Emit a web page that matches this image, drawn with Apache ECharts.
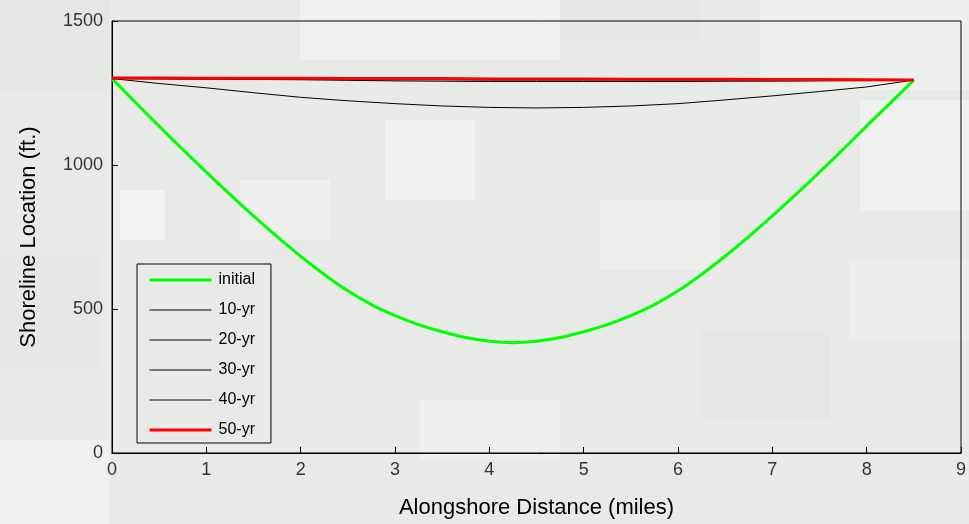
<!DOCTYPE html>
<html>
<head>
<meta charset="utf-8">
<script src="https://cdn.jsdelivr.net/npm/echarts@6/dist/echarts.min.js"></script>
<style>
html,body{margin:0;padding:0;background:#e8eae8;}
#c{width:969px;height:524px;}
</style>
</head>
<body>
<div id="c"></div>
<script>
// ---- data ----
const seriesNames = ['initial', '10-yr', '20-yr', '30-yr', '40-yr', '50-yr'];
const xInitial = [0,0.25,0.5,0.75,1,1.25,1.5,1.75,2,2.25,2.5,2.75,3,3.25,3.5,3.75,4,4.25,4.5,4.75,5,5.25,5.5,5.75,6,6.25,6.5,6.75,7,7.25,7.5,7.75,8,8.25,8.5];
const yInitial = [1300,1217,1135,1054,975,898,823,751,683,620,563,515,477,446,421,401,388,383,388,401,421,446,477,515,563,620,683,751,823,898,975,1054,1135,1215,1295];
const xYears = [0,0.5,1,1.5,2,2.5,3,3.5,4,4.5,5,5.5,6,6.5,7,7.5,8,8.5];
const y10 = [1300,1283,1268,1251,1235,1223,1213,1205,1200,1198,1200,1205,1213,1226,1240,1255,1271,1295];
const y20 = [1300,1299,1298,1297,1296,1294,1292,1291,1290,1290,1290,1290,1290,1291,1291,1292,1293,1295];
const y30 = [1300,1300,1299,1299,1298,1297,1296,1296,1295,1295,1295,1295,1295,1295,1295,1295,1295,1295];
const y40 = [1300,1300,1300,1300,1299,1299,1298,1298,1297,1297,1297,1297,1296,1296,1296,1296,1296,1295];
const y50 = [1302,1302,1301,1301,1301,1300,1300,1300,1299,1299,1299,1298,1298,1298,1297,1297,1296,1295];
const xTicks = [0,1,2,3,4,5,6,7,8,9];
const yTicks = [0,500,1000,1500];

function pairs(xs, ys){ return xs.map((x,i)=>[x, ys[i]]); }
const seriesData = [pairs(xInitial,yInitial), pairs(xYears,y10), pairs(xYears,y20), pairs(xYears,y30), pairs(xYears,y40), pairs(xYears,y50)];
const colors = ['#00ff00','#000000','#000000','#000000','#000000','#ff0000'];
const widths = [3,1,1,1,1,3];

const FONT = '"Liberation Sans", Arial, sans-serif';
const chart = echarts.init(document.getElementById('c'));

// background camouflage-like patches (decorative)
const patches = [
  [0,0,110,90,'#e4e7e4'],[300,0,260,60,'#eff1ef'],[560,0,140,40,'#e5e8e5'],
  [760,0,209,90,'#eef0ee'],[860,100,109,110,'#f0f2f0'],[120,190,45,50,'#f1f3f1'],
  [385,120,90,80,'#f0f2f0'],[240,180,90,60,'#eef0ee'],[600,200,120,70,'#edefed'],
  [0,440,110,84,'#eff1ef'],[700,330,130,90,'#e4e7e4'],[420,400,140,60,'#edefed'],
  [850,260,119,80,'#eceeec'],[0,250,100,120,'#e5e8e5']
];
const graphics = patches.map(p=>({type:'rect', z:-10, silent:true, shape:{x:p[0],y:p[1],width:p[2],height:p[3]}, style:{fill:p[4]}}));

const legendData = seriesNames.map((n,i)=>({
  name:n,
  lineStyle:{width:widths[i], color:colors[i]},
  itemStyle:{opacity:0}
}));

chart.setOption({
  backgroundColor: '#e8eae8',
  animation: false,
  graphic: graphics,
  grid: {left:112, right:6, top:21, bottom:67, show:true, borderColor:'#000', borderWidth:1, backgroundColor:'transparent'},
  xAxis: {
    type:'value', min:0, max:9, interval:1,
    name:'Alongshore Distance (miles)', nameLocation:'middle', nameGap:44,
    nameTextStyle:{fontFamily:FONT, fontSize:22, color:'#000'},
    axisLine:{show:true, lineStyle:{color:'#000', width:1}},
    axisTick:{show:true, inside:true, length:6, lineStyle:{color:'#000'}},
    axisLabel:{fontFamily:FONT, fontSize:18, color:'#333', margin:8, formatter:v=>String(v)},
    splitLine:{show:false}
  },
  yAxis: {
    type:'value', min:0, max:1500, interval:500,
    name:'Shoreline Location (ft.)', nameLocation:'middle', nameGap:72, nameRotate:90,
    nameTextStyle:{fontFamily:FONT, fontSize:22, color:'#000'},
    axisLine:{show:true, lineStyle:{color:'#000', width:1}},
    axisTick:{show:true, inside:true, length:6, lineStyle:{color:'#000'}},
    axisLabel:{fontFamily:FONT, fontSize:18, color:'#333', margin:9, formatter:v=>String(v)},
    splitLine:{show:false}
  },
  legend: {
    orient:'vertical', left:137, top:264,
    itemWidth:62, itemHeight:15, itemGap:14,
    padding:[8,16,5,11],
    itemStyle:{opacity:0},
    borderColor:'#000', borderWidth:1, backgroundColor:'transparent',
    textStyle:{fontFamily:FONT, fontSize:16, color:'#000', padding:[0,0,0,2]},
    data: legendData
  },
  series: seriesNames.map((n,i)=>({
    name:n, type:'line', data:seriesData[i], symbol:'none', showSymbol:false,
    smooth: i === 0 ? 0.35 : false,
    lineStyle:{color:colors[i], width:widths[i]}, itemStyle:{color:colors[i]},
    z: 2+i
  }))
});
</script>
</body>
</html>
